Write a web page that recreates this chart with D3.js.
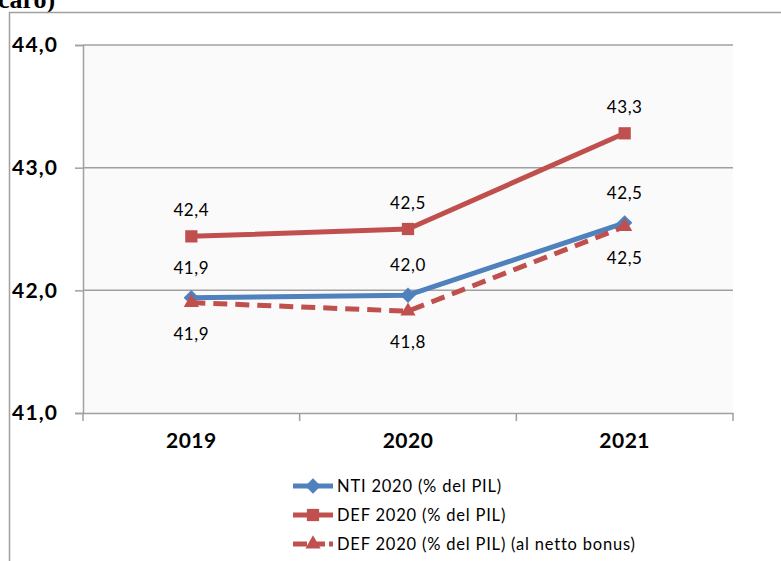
<!DOCTYPE html>
<html><head><meta charset="utf-8">
<script src="https://cdn.jsdelivr.net/npm/d3@7"></script>
<style>body{margin:0;background:#fff}svg{display:block}</style>
</head><body>
<svg id="c" width="781" height="561"></svg>
<script>
const categories = ["2019", "2020", "2021"];
const nti = [41.94, 41.96, 42.55];
const def = [42.44, 42.50, 43.28];
const defNetto = [41.90, 41.83, 42.52];
const ntiLabels = ["41,9", "42,0", "42,5"];
const defLabels = ["42,4", "42,5", "43,3"];
const defNettoLabels = ["41,9", "41,8", "42,5"];
const yTicks = [41, 42, 43, 44];
const seriesNames = ["NTI 2020 (% del PIL)", "DEF 2020 (% del PIL)", "DEF 2020 (% del PIL) (al netto bonus)"];

const svg = d3.select("#c");
const blue = "#4F81BD", red = "#C0504D", grid = "#a0a0a0";
const L = 83, R = 733, T = 45, B = 413;
const FONT = "Lato, 'Open Sans', sans-serif";

// title fragment (cut off at the top, as in the reference)
svg.append("text").attr("x", -2).attr("y", 8)
  .attr("font-family", "Liberation Serif").attr("font-weight", "bold").attr("font-size", 26)
  .text("caro)");
// outer chart border
svg.append("path").attr("d", "M9.5,561 V12.5 H781").attr("fill", "none").attr("stroke", "#a0a0a0").attr("stroke-width", 1.5);

// plot background
svg.append("rect").attr("x", L).attr("y", T).attr("width", R - L).attr("height", B - T).attr("fill", "#fafafa");

const x = d3.scaleBand().domain(categories).range([L, R]).padding(0);
const y = d3.scaleLinear().domain([41, 44]).range([B, T]);

// gridlines
svg.append("g").selectAll("line").data(yTicks.filter(d => d > 41)).join("line")
  .attr("x1", L).attr("x2", R).attr("y1", d => y(d)).attr("y2", d => y(d))
  .attr("stroke", grid).attr("stroke-width", 1.5);

// y axis
const yAxis = d3.axisLeft(y).tickValues(yTicks).tickSize(8).tickFormat(d => d3.format(".1f")(d).replace(".", ","));
const gy = svg.append("g").attr("transform", `translate(${L},0)`).call(yAxis);
gy.select(".domain").attr("stroke", grid).attr("stroke-width", 1.5);
gy.selectAll(".tick line").attr("stroke", grid).attr("stroke-width", 1.5);
gy.selectAll(".tick text").attr("x", -71).attr("text-anchor", "start")
  .attr("font-family", FONT).attr("font-weight", "bold").attr("font-size", 21)
  .attr("letter-spacing", 1.2).attr("fill", "#000");

// x axis
const xAxis = d3.axisBottom(x).tickSize(0).tickPadding(20);
const gx = svg.append("g").attr("transform", `translate(0,${B})`).call(xAxis);
gx.select(".domain").attr("stroke", grid).attr("stroke-width", 1.5);
gx.selectAll(".tick text").attr("font-family", FONT).attr("font-weight", "bold").attr("font-size", 21)
  .attr("letter-spacing", 0.5).attr("fill", "#000").attr("dy", "0.71em");
// category boundary ticks
const bounds = categories.map(c => x(c)).concat([x(categories[2]) + x.bandwidth()]);
svg.append("g").selectAll("line").data(bounds).join("line")
  .attr("x1", d => d).attr("x2", d => d).attr("y1", B).attr("y2", B + 8)
  .attr("stroke", grid).attr("stroke-width", 1.5);

const cx = c => x(c) + x.bandwidth() / 2;
const line = d3.line().x((d, i) => cx(categories[i])).y(d => y(d));

const symDiamond = d3.symbol().type(d3.symbolDiamond2).size(150);
const symSquare = d3.symbol().type(d3.symbolSquare).size(150);
const symTri = d3.symbol().type(d3.symbolTriangle).size(100);

function drawSeries(vals, color, dash, sym) {
  svg.append("path").datum(vals).attr("d", line).attr("fill", "none").attr("stroke", color)
    .attr("stroke-width", 5).attr("stroke-dasharray", dash).attr("stroke-linejoin", "round");
  svg.append("g").selectAll("path").data(vals).join("path")
    .attr("transform", (d, i) => `translate(${cx(categories[i])},${y(d)})`)
    .attr("d", sym).attr("fill", color);
}
drawSeries(def, red, null, symSquare);
drawSeries(nti, blue, null, symDiamond);
drawSeries(defNetto, red, "14,8", symTri);

function labels(vals, texts, dy) {
  svg.append("g").selectAll("text").data(vals).join("text")
    .attr("x", (d, i) => cx(categories[i])).attr("y", d => y(d) + dy)
    .attr("text-anchor", "middle").attr("font-family", FONT).attr("font-size", 17)
    .attr("letter-spacing", 0.6).attr("fill", "#000")
    .text((d, i) => texts[i]);
}
labels(nti, ntiLabels, -24);
labels(def, defLabels, -20);
labels(defNetto, defNettoLabels, 37);

// legend
const legY = [486, 515, 544];
const legColors = [blue, red, red];
const legDash = [null, null, "14,4"];
const legSym = [symDiamond, symSquare, symTri];
seriesNames.forEach((name, i) => {
  const g = svg.append("g").attr("transform", `translate(0,${legY[i]})`);
  g.append("line").attr("x1", 293).attr("x2", 333).attr("y1", 0).attr("y2", 0)
    .attr("stroke", legColors[i]).attr("stroke-width", 5).attr("stroke-dasharray", legDash[i]);
  g.append("path").attr("transform", "translate(313,0)").attr("d", legSym[i]).attr("fill", legColors[i]);
  g.append("text").attr("x", 337).attr("y", 0).attr("dy", "0.35em")
    .attr("font-family", FONT).attr("font-size", 16.5).attr("letter-spacing", 0.8)
    .attr("fill", "#000").text(name);
});
</script>
</body></html>
